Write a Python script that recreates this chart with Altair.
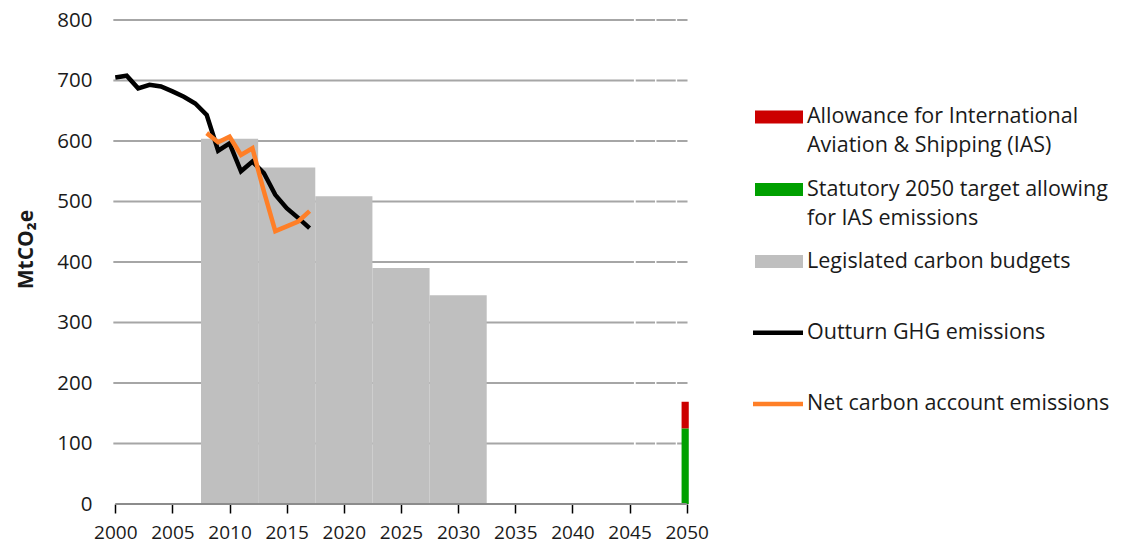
import altair as alt
import pandas as pd

# ---------------- data ----------------
ghg_years = list(range(2000, 2018))
ghg_values = [705, 708, 687, 693, 690, 682, 673, 662, 643, 584, 596, 550, 566, 547, 511, 489, 473, 456]

net_years = list(range(2008, 2018))
net_values = [613, 598, 607, 577, 588, 517, 451, 459, 467, 484]

budget_start = [2007.5, 2012.5, 2017.5, 2022.5, 2027.5]
budget_end = [2012.5, 2017.5, 2022.5, 2027.5, 2032.5]
budget_values = [603.6, 556.4, 508.8, 390, 345]

target_start = 2049.55
target_end = 2050.18
target_green = 125
target_red_top = 169

y_ticks = [0, 100, 200, 300, 400, 500, 600, 700, 800]
x_ticks = list(range(2000, 2051, 5))

legend_lines = [
    ["Allowance for International", "Aviation & Shipping (IAS)"],
    ["Statutory 2050 target allowing", "for IAS emissions"],
    ["Legislated carbon budgets"],
    ["Outturn GHG emissions"],
    ["Net carbon account emissions"],
]

# ---------------- styles ----------------
FONT = "Open Sans"
TXT = "#1a1a1a"
GREY_BAR = "#bfbfbf"
RED = "#cc0000"
GREEN = "#00a000"
ORANGE = "#ff7f27"
GRID = "#a6a6a6"

TOP = 12
W, H = 576, 484
X0, X1 = 1999.8, 2050.2


def px(year):
    return (year - X0) / (X1 - X0) * W


xscale = alt.Scale(domain=[X0, X1], nice=False, zero=False)
yscale = alt.Scale(domain=[0, 800], nice=False)

x_axis = alt.Axis(values=x_ticks, format="d", domain=False, grid=False,
                  tickColor="black", tickSize=9, tickWidth=1.5,
                  labelFont=FONT, labelFontSize=19, labelColor=TXT,
                  labelPadding=10, title=None, labelFlush=False)
y_axis = alt.Axis(values=y_ticks, domain=False, ticks=False, grid=False,
                  labelFont=FONT, labelFontSize=20.5, labelColor=TXT,
                  labelPadding=21, title="MtCO₂e", titleFont=FONT,
                  titleFontSize=21, titleFontWeight="bold", titleColor=TXT,
                  titleX=-87, titleY=249 - 8 - TOP, titleBaseline="middle",
                  titleAlign="center", titleAngle=270)

grid_df = pd.DataFrame({"v": y_ticks[1:]})
ghg_df = pd.DataFrame({"year": ghg_years, "value": ghg_values})
net_df = pd.DataFrame({"year": net_years, "value": net_values})
budget_df = pd.DataFrame({"s": budget_start, "e": budget_end, "v": budget_values})
target_df = pd.DataFrame({
    "s": [target_start, target_start],
    "e": [target_end, target_end],
    "lo": [0, target_green],
    "hi": [target_green, target_red_top],
    "c": [GREEN, RED],
})

grid_solid = alt.Chart(grid_df).mark_rule(color=GRID, strokeWidth=2).encode(
    x=alt.value(px(1999.83)),
    x2=alt.value(px(2045.38)),
    y=alt.Y("v:Q", scale=yscale, axis=y_axis),
)
grid_dash = alt.Chart(grid_df).mark_rule(color=GRID, strokeWidth=2, strokeDash=[19.3, 1.4]).encode(
    x=alt.value(px(2045.54)),
    x2=alt.value(px(2050.07)),
    y=alt.Y("v:Q", scale=yscale, axis=y_axis),
)

budgets = alt.Chart(budget_df).mark_rect(color=GREY_BAR).encode(
    x=alt.X("s:Q", scale=xscale, axis=x_axis),
    x2="e:Q",
    y=alt.Y("v:Q", scale=yscale, axis=y_axis),
    y2=alt.value(H),
)

target = alt.Chart(target_df).mark_rect().encode(
    x=alt.X("s:Q", scale=xscale, axis=x_axis),
    x2="e:Q",
    y=alt.Y("lo:Q", scale=yscale, axis=y_axis),
    y2="hi:Q",
    color=alt.Color("c:N", scale=None, legend=None),
)

baseline = alt.Chart(pd.DataFrame({"k": [0]})).mark_rule(color="#8c8c8c", strokeWidth=2).encode(
    x=alt.value(px(2000)),
    x2=alt.value(px(2050)),
    y=alt.value(H),
)

ghg_line = alt.Chart(ghg_df).mark_line(color="black", strokeWidth=4.5).encode(
    x=alt.X("year:Q", scale=xscale, axis=x_axis),
    y=alt.Y("value:Q", scale=yscale, axis=y_axis),
)
net_line = alt.Chart(net_df).mark_line(color=ORANGE, strokeWidth=4.5).encode(
    x=alt.X("year:Q", scale=xscale, axis=x_axis),
    y=alt.Y("value:Q", scale=yscale, axis=y_axis),
)

# ---------------- manual legend (pixel layout) ----------------
sw_x0, sw_x1, txt_x = 642, 690, 694
item_y = [117, 189.5, 261.5, 332.7, 404]
line_gap = 29
swatch_colors = [RED, GREEN, GREY_BAR]
legend_layers = []
for i, lines in enumerate(legend_lines):
    yc = item_y[i] - 8 - TOP
    one = pd.DataFrame({"k": [0]})
    if i < 3:
        legend_layers.append(
            alt.Chart(one).mark_rect(color=swatch_colors[i]).encode(
                x=alt.value(sw_x0), x2=alt.value(sw_x1),
                y=alt.value(yc - 6.5), y2=alt.value(yc + 6.5))
        )
    else:
        legend_layers.append(
            alt.Chart(one).mark_rule(color=["black", ORANGE][i - 3], strokeWidth=4.5).encode(
                x=alt.value(sw_x0 - 2), x2=alt.value(sw_x1),
                y=alt.value(yc))
        )
    for j, ln in enumerate(lines):
        legend_layers.append(
            alt.Chart(pd.DataFrame({"t": [ln]})).mark_text(
                align="left", baseline="middle", font=FONT, fontSize=21.5, color=TXT
            ).encode(x=alt.value(txt_x), y=alt.value(yc + j * line_gap), text="t:N")
        )

chart = alt.layer(
    grid_solid, grid_dash, budgets, target, baseline, ghg_line, net_line, *legend_layers
).properties(
    width=W, height=H,
    autosize=alt.AutoSizeParams(type="none"),
    padding={"left": 105, "top": TOP, "right": 430, "bottom": 41},
    background="white",
).configure_view(stroke=None)

chart.save("out.html", embed_options={"renderer": "svg", "actions": False})
